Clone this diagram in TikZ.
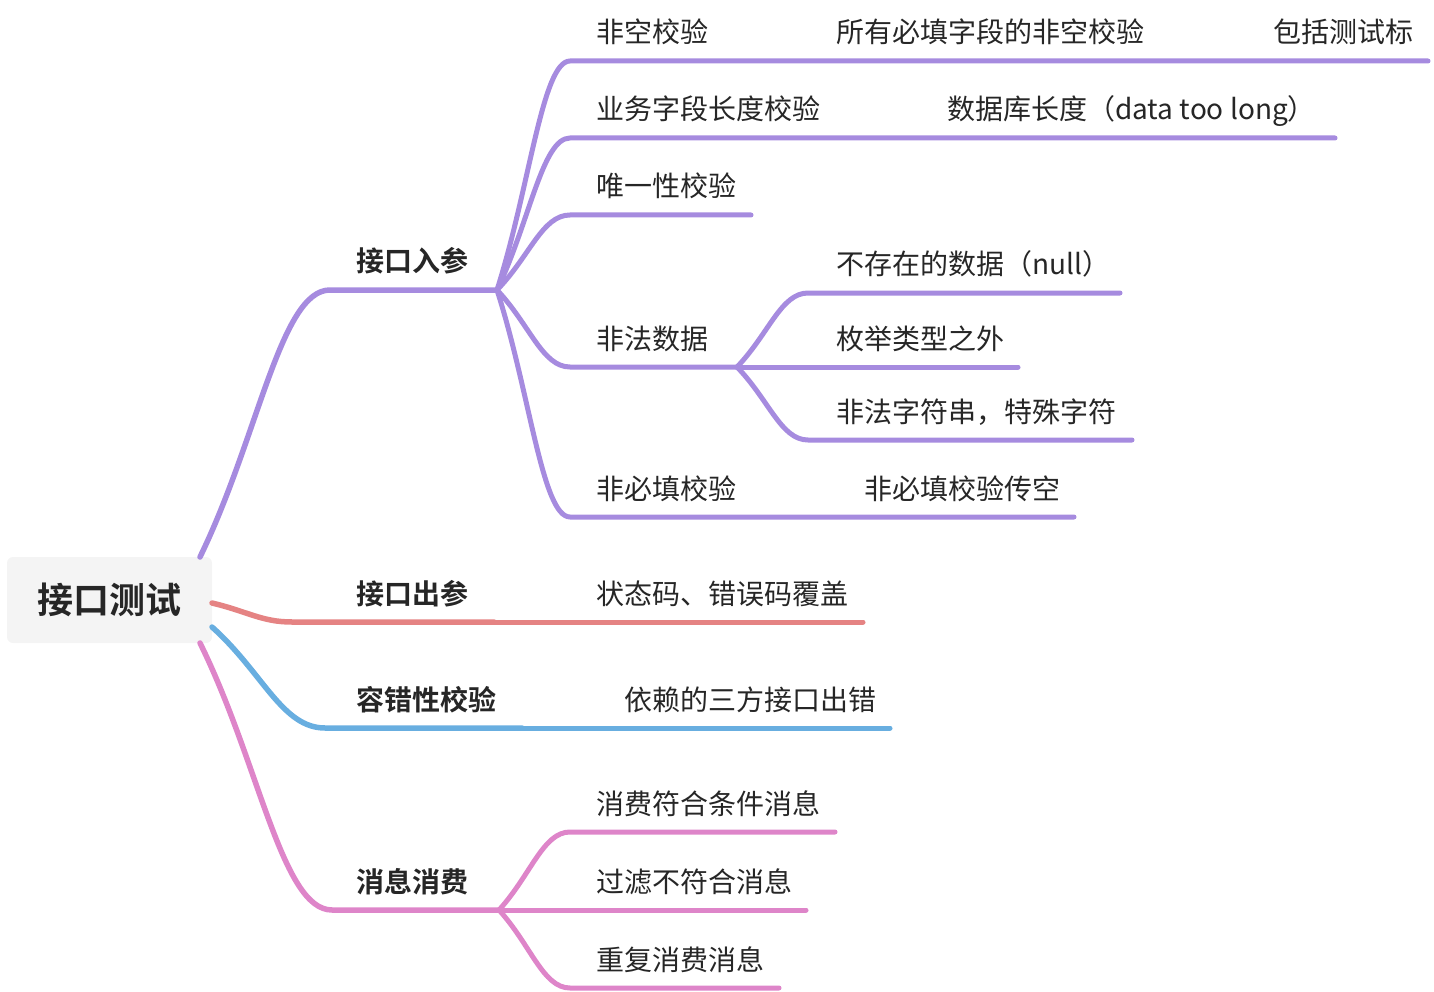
\documentclass[tikz,border=0pt]{standalone}
\usepackage{fontspec}
\setmainfont{Noto Sans CJK SC}[BoldFont={Noto Sans CJK SC Bold}]
\usetikzlibrary{calc}
\definecolor{cpur}{HTML}{A68BDF}
\definecolor{cred}{HTML}{E58383}
\definecolor{cblu}{HTML}{68AEE0}
\definecolor{cpnk}{HTML}{DE85C9}
\definecolor{txt}{HTML}{262626}
\definecolor{rootfill}{HTML}{F4F4F4}
\tikzset{
  branch/.style={to path={let \p1=(\tikztostart), \p2=(\tikztotarget) in
      .. controls ({\x1+0.45*(\x2-\x1)},{\y1+0.45*(\y2-\y1)}) and ({\x1+0.62*(\x2-\x1)},\y2) .. (\tikztotarget)}},
  lone/.style={line width=5.5pt, line cap=round, line join=round},
  ltwo/.style={line width=5pt, line cap=round, line join=round},
  tone/.style={font=\fontsize{28}{28}\selectfont\bfseries, text=txt, inner sep=0pt, anchor=base west},
  ttwo/.style={font=\fontsize{28}{28}\selectfont, text=txt, inner sep=0pt, anchor=base west},
  rootbox/.style={fill=rootfill, rounded corners=6pt, minimum width=205pt, minimum height=86pt,
      inner sep=0pt, font=\fontsize{36}{36}\selectfont\bfseries, text=txt}
}
\begin{document}
\begin{tikzpicture}[x=1pt, y=-1pt]
\useasboundingbox (0,0) rectangle (1434,992);
% root
\node[rootbox] (root) at (109.5,600) {接口测试};
\coordinate (rp) at (200,557);
\coordinate (rr) at (212,603);
\coordinate (rb) at (212,627);
\coordinate (rk) at (200,643);

% level 1 text
\node[tone] (a) at (356,272) {接口入参};
\node[tone] (b) at (356,604) {接口出参};
\node[tone] (c) at (356,710) {容错性校验};
\node[tone] (d) at (356,892) {消息消费};

% level 2 text
\node[ttwo] (a1) at (596,43) {非空校验};
\node[ttwo] (a1a) at (836,43) {所有必填字段的非空校验};
\node[ttwo] (a1b) at (1273,43) {包括测试标};
\node[ttwo] (a2) at (596,120) {业务字段长度校验};
\node[ttwo] (a2a) at (947,120) {数据库长度（data too long）};
\node[ttwo] (a3) at (596,197) {唯一性校验};
\node[ttwo] (a4) at (596,349) {非法数据};
\node[ttwo] (a4a) at (836,275) {不存在的数据（null）};
\node[ttwo] (a4b) at (836,349) {枚举类型之外};
\node[ttwo] (a4c) at (836,422) {非法字符串，特殊字符};
\node[ttwo] (a5) at (596,499) {非必填校验};
\node[ttwo] (a5a) at (864,499) {非必填校验传空};
\node[ttwo] (b1) at (596,604) {状态码、错误码覆盖};
\node[ttwo] (c1) at (624,710) {依赖的三方接口出错};
\node[ttwo] (d1) at (596,814) {消费符合条件消息};
\node[ttwo] (d2) at (596,892) {过滤不符合消息};
\node[ttwo] (d3) at (596,970) {重复消费消息};

% underline coordinates
\coordinate (a-s) at (330,290);   \coordinate (a-e) at (497,290);
\coordinate (a1-s) at (570,61);   \coordinate (a1-e) at (735,61);
\coordinate (a1a-s) at (808,61);  \coordinate (a1a-e) at (1171,61);
\coordinate (a1b-s) at (1245,61); \coordinate (a1b-e) at (1428,61);
\coordinate (a2-s) at (570,138);  \coordinate (a2-e) at (846,138);
\coordinate (a2a-s) at (919,138); \coordinate (a2a-e) at (1335,138);
\coordinate (a3-s) at (570,215);  \coordinate (a3-e) at (751,215);
\coordinate (a4-s) at (570,367);  \coordinate (a4-e) at (737,367);
\coordinate (a4a-s) at (808,293); \coordinate (a4a-e) at (1120,293);
\coordinate (a4b-s) at (808,367); \coordinate (a4b-e) at (1018,367);
\coordinate (a4c-s) at (808,440); \coordinate (a4c-e) at (1132,440);
\coordinate (a5-s) at (570,517);  \coordinate (a5-e) at (762,517);
\coordinate (a5a-s) at (836,517); \coordinate (a5a-e) at (1074,517);
\coordinate (b-s) at (292,622);   \coordinate (b-e) at (494,622);
\coordinate (b1-s) at (568,622);  \coordinate (b1-e) at (863,622);
\coordinate (c-s) at (325,728);   \coordinate (c-e) at (522,728);
\coordinate (c1-s) at (596,728);  \coordinate (c1-e) at (890,728);
\coordinate (d-s) at (332,910);   \coordinate (d-e) at (499,910);
\coordinate (d1-s) at (570,832);  \coordinate (d1-e) at (835,832);
\coordinate (d2-s) at (570,910);  \coordinate (d2-e) at (806,910);
\coordinate (d3-s) at (570,988);  \coordinate (d3-e) at (779,988);

% purple branch
\draw[lone, cpur] (rp) to[branch] (a-s) -- (a-e);
\draw[ltwo, cpur] (a-e) to[branch] (a1-s) -- (a1-e) -- (a1a-s) -- (a1a-e) -- (a1b-s) -- (a1b-e);
\draw[ltwo, cpur] (a-e) to[branch] (a2-s) -- (a2-e) -- (a2a-s) -- (a2a-e);
\draw[ltwo, cpur] (a-e) to[branch] (a3-s) -- (a3-e);
\draw[ltwo, cpur] (a-e) to[branch] (a4-s) -- (a4-e);
\draw[ltwo, cpur] (a4-e) to[branch] (a4a-s) -- (a4a-e);
\draw[ltwo, cpur] (a4-e) -- (a4b-s) -- (a4b-e);
\draw[ltwo, cpur] (a4-e) to[branch] (a4c-s) -- (a4c-e);
\draw[ltwo, cpur] (a-e) to[branch] (a5-s) -- (a5-e) -- (a5a-s) -- (a5a-e);

% red branch
\draw[lone, cred] (rr) to[branch] (b-s) -- (b-e);
\draw[ltwo, cred] (b-e) -- (b1-s) -- (b1-e);

% blue branch
\draw[lone, cblu] (rb) to[branch] (c-s) -- (c-e);
\draw[ltwo, cblu] (c-e) -- (c1-s) -- (c1-e);

% pink branch
\draw[lone, cpnk] (rk) to[branch] (d-s) -- (d-e);
\draw[ltwo, cpnk] (d-e) to[branch] (d1-s) -- (d1-e);
\draw[ltwo, cpnk] (d-e) -- (d2-s) -- (d2-e);
\draw[ltwo, cpnk] (d-e) to[branch] (d3-s) -- (d3-e);
\end{tikzpicture}
\end{document}
